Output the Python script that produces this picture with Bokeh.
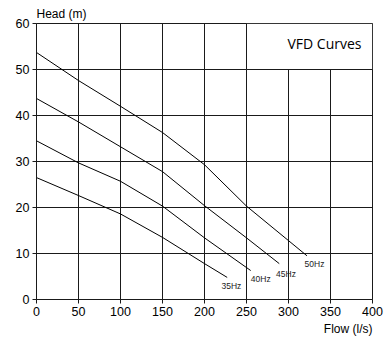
from bokeh.plotting import figure
from bokeh.models import Label, BoxAnnotation, FixedTicker, ColumnDataSource, Title
from bokeh.core.properties import value
from bokeh.embed import file_html
from bokeh.resources import INLINE

# Data
flow_35 = [0, 50, 100, 150, 200, 227]
head_35 = [26.5, 22.6, 18.6, 13.5, 7.8, 4.8]
flow_40 = [0, 50, 100, 150, 200, 255]
head_40 = [34.5, 29.7, 25.7, 20.3, 13.4, 6.3]
flow_45 = [0, 50, 100, 150, 200, 250, 289]
head_45 = [43.7, 38.6, 33.2, 27.8, 20.4, 13.4, 7.8]
flow_50 = [0, 50, 100, 150, 200, 250, 300, 322]
head_50 = [53.7, 47.6, 42.0, 36.3, 29.3, 20.3, 12.8, 9.5]

curve_labels = ["35Hz", "40Hz", "45Hz", "50Hz"]
label_flow = [232, 267, 297, 331]
label_head = [3.0, 4.4, 5.5, 7.7]

x_ticks = [0, 50, 100, 150, 200, 250, 300, 350, 400]
y_ticks = [0, 10, 20, 30, 40, 50, 60]

GRID = "#1a1a1a"
TICK_FONT = "Liberation Sans"

p = figure(width=384, height=337, x_range=(0, 400), y_range=(0, 60),
           output_backend="svg", toolbar_location=None,
           min_border_left=36, min_border_right=12,
           min_border_top=23, min_border_bottom=38)
p.background_fill_color = "white"
p.border_fill_color = "white"
p.outline_line_color = GRID
p.outline_line_width = 1

p.title.text = "Head (m)"
p.title.align = "left"
p.title.text_font = TICK_FONT
p.title.text_font_size = "12px"
p.title.text_font_style = "normal"
p.title.text_color = "black"
p.title.standoff = 5
p.title.offset = 0

p.add_layout(Title(text="Flow (l/s)", align="right", text_font=TICK_FONT,
                   text_font_size="12px", text_font_style="normal",
                   text_color="black", standoff=2), "below")

for ax in (p.xaxis[0], p.yaxis[0]):
    ax.axis_line_color = GRID
    ax.major_tick_line_color = GRID
    ax.minor_tick_line_color = None
    ax.major_tick_in = 0
    ax.major_tick_out = 4
    ax.major_label_text_font = TICK_FONT
    ax.major_label_text_font_size = "12.5px"
    ax.major_label_text_color = "black"

p.xaxis[0].ticker = FixedTicker(ticks=x_ticks)
p.yaxis[0].ticker = FixedTicker(ticks=y_ticks)
p.xaxis[0].major_label_standoff = 3
p.yaxis[0].major_label_standoff = 3

p.xgrid[0].ticker = FixedTicker(ticks=x_ticks)
p.ygrid[0].ticker = FixedTicker(ticks=y_ticks)
for g in (p.xgrid[0], p.ygrid[0]):
    g.grid_line_color = GRID
    g.grid_line_width = 1
    g.grid_line_alpha = 1

for fx, hy in ((flow_35, head_35), (flow_40, head_40), (flow_45, head_45), (flow_50, head_50)):
    p.line(fx, hy, line_color="black", line_width=1)

src = ColumnDataSource(dict(x=label_flow, y=label_head, t=curve_labels))
p.text(x="x", y="y", text="t", source=src, text_font=value(TICK_FONT),
       text_font_size="8.5px", text_color="#222222", text_align="center",
       text_baseline="middle")

box = BoxAnnotation(left=250, right=400, bottom=50, top=60,
                    fill_color="white", fill_alpha=1.0,
                    line_color=GRID, line_width=1, line_alpha=1.0)
p.add_layout(box)

p.add_layout(Label(x=400, y=60, x_offset=-11, y_offset=-19.5, text="VFD Curves",
                   text_font="Open Sans", text_font_size="14px", text_color="black",
                   text_align="right", text_baseline="alphabetic"))

open("out.html", "w").write(file_html(p, INLINE))
